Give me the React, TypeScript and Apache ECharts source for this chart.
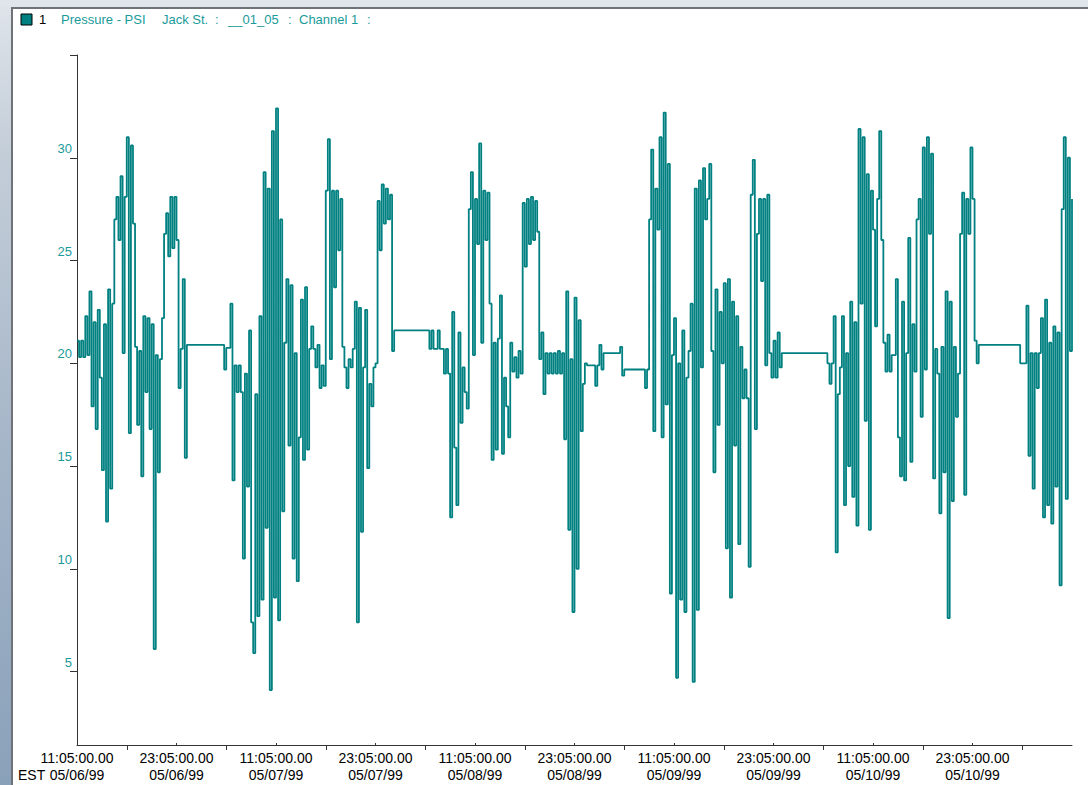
import React, { useEffect, useRef } from "react";
import * as echarts from "echarts";

// Pressure samples, one every 0.25 h, starting 11:05 05/06/99 (12 h per array)
const STEP_HOURS = 0.25;
const halfDay1 = [21.1, 20.3, 21.1, 20.3, 22.3, 20.4, 23.5, 17.9, 22.0, 16.8, 22.6, 19.3, 14.8, 21.9, 12.3, 23.6, 13.9, 22.9, 27.0, 28.1, 26.0, 29.1, 20.5, 28.1, 31.0, 16.6, 30.6, 26.8, 20.8, 17.0, 20.6, 14.5, 22.3, 18.6, 22.2, 16.8, 21.9, 6.1, 20.4, 14.7, 20.2, 22.2, 26.3, 27.3, 25.2, 28.1, 25.6, 28.1];
const halfDay2 = [26.0, 18.8, 20.7, 24.1, 15.4, 20.9, 20.9, 20.9, 20.9, 20.9, 20.9, 20.9, 20.9, 20.9, 20.9, 20.9, 20.9, 20.9, 20.9, 20.9, 20.9, 20.9, 20.9, 19.7, 20.75, 20.75, 22.9, 14.3, 19.9, 18.6, 19.9, 18.6, 10.5, 19.5, 14.0, 21.6, 7.4, 5.9, 18.5, 7.7, 22.3, 8.5, 29.3, 12.0, 28.5, 4.1, 31.3, 8.6];
const halfDay3 = [32.4, 7.5, 27.0, 12.8, 21.0, 24.1, 16.0, 23.8, 10.5, 20.5, 9.4, 16.4, 23.1, 15.3, 23.7, 15.8, 20.7, 21.8, 20.7, 19.8, 20.9, 18.8, 19.9, 18.9, 28.4, 30.9, 20.2, 28.4, 23.7, 28.4, 25.5, 28.0, 20.8, 19.8, 18.8, 20.2, 19.8, 20.7, 23.0, 7.4, 22.7, 11.8, 19.8, 22.6, 14.9, 19.0, 17.9, 19.8];
const halfDay4 = [20.0, 27.9, 25.5, 28.7, 26.8, 28.5, 27.0, 28.2, 20.6, 21.6, 21.6, 21.6, 21.6, 21.6, 21.6, 21.6, 21.6, 21.6, 21.6, 21.6, 21.6, 21.6, 21.6, 21.6, 21.6, 21.6, 20.7, 21.6, 20.7, 20.7, 21.6, 20.7, 20.7, 19.5, 20.7, 19.5, 12.5, 22.5, 15.9, 13.1, 21.5, 17.1, 19.8, 18.6, 17.8, 27.5, 29.3, 20.4];
const halfDay5 = [28.0, 25.8, 30.7, 21.0, 28.4, 26.0, 28.3, 22.9, 15.3, 21.0, 15.8, 21.2, 23.3, 15.6, 19.3, 17.9, 16.4, 21.0, 19.6, 20.3, 19.3, 20.6, 19.5, 27.8, 24.7, 28.0, 25.8, 28.1, 26.0, 27.9, 26.4, 20.2, 21.5, 18.5, 20.5, 19.5, 20.5, 19.5, 20.5, 19.5, 20.6, 19.5, 20.5, 16.3, 23.5, 11.9, 20.2, 7.9];
const halfDay6 = [23.2, 10.0, 22.1, 16.7, 19.0, 20.0, 19.9, 19.9, 19.9, 19.9, 18.9, 19.9, 20.9, 19.7, 20.5, 20.5, 20.5, 20.5, 20.5, 20.5, 20.5, 20.5, 20.8, 19.4, 19.7, 19.7, 19.7, 19.7, 19.7, 19.7, 19.7, 19.7, 19.7, 19.7, 18.8, 19.7, 27.0, 30.4, 16.7, 28.5, 26.5, 31.0, 16.4, 32.2, 18.0, 29.7, 8.8, 20.4];
const halfDay7 = [22.2, 4.7, 20.0, 8.5, 21.6, 7.9, 19.3, 20.6, 22.9, 4.5, 28.5, 8.0, 28.9, 19.8, 29.5, 27.0, 28.0, 29.7, 20.6, 14.7, 23.6, 17.0, 22.5, 20.0, 23.9, 11.0, 24.1, 8.6, 23.0, 16.0, 22.3, 11.2, 20.8, 18.3, 19.7, 18.3, 10.1, 28.2, 29.9, 16.8, 26.3, 28.0, 24.0, 28.0, 19.9, 28.2, 20.5, 19.3];
const halfDay8 = [21.1, 19.3, 21.5, 19.8, 20.5, 20.5, 20.5, 20.5, 20.5, 20.5, 20.5, 20.5, 20.5, 20.5, 20.5, 20.5, 20.5, 20.5, 20.5, 20.5, 20.5, 20.5, 20.5, 20.5, 20.5, 20.5, 20.0, 19.0, 20.0, 22.3, 10.8, 18.5, 19.8, 22.3, 13.1, 20.5, 15.0, 23.0, 13.5, 22.0, 12.1, 31.4, 22.9, 31.0, 17.2, 29.2, 11.9, 28.4];
const halfDay9 = [26.5, 21.8, 28.0, 31.3, 26.0, 21.0, 19.6, 21.4, 19.6, 20.4, 20.4, 24.1, 16.4, 14.5, 23.0, 14.3, 20.5, 26.1, 15.2, 21.9, 19.6, 27.0, 28.0, 17.4, 30.5, 19.7, 31.0, 26.3, 30.2, 14.4, 20.7, 19.5, 12.7, 20.8, 14.7, 23.5, 7.6, 23.0, 13.3, 20.8, 17.4, 19.5, 26.3, 28.3, 13.6, 28.0, 26.3, 30.5];
const halfDay10 = [28.0, 21.1, 20.0, 20.9, 20.9, 20.9, 20.9, 20.9, 20.9, 20.9, 20.9, 20.9, 20.9, 20.9, 20.9, 20.9, 20.9, 20.9, 20.9, 20.9, 20.9, 20.9, 20.9, 20.0, 20.0, 20.0, 22.8, 15.5, 20.5, 13.9, 20.5, 18.8, 20.5, 22.2, 12.5, 23.1, 13.1, 21.0, 12.2, 21.8, 14.0, 21.5, 9.2, 27.5, 31.0, 13.4, 30.0, 20.6, 28.0];

// Axis labels
const xLabelHours = [0, 12, 24, 36, 48, 60, 72, 84, 96, 108];
const xLabelTimes = ["11:05:00.00", "23:05:00.00", "11:05:00.00", "23:05:00.00", "11:05:00.00", "23:05:00.00", "11:05:00.00", "23:05:00.00", "11:05:00.00", "23:05:00.00"];
const xLabelDates = ["05/06/99", "05/06/99", "05/07/99", "05/07/99", "05/08/99", "05/08/99", "05/09/99", "05/09/99", "05/10/99", "05/10/99"];
const xMajorTickHours = [6, 18, 30, 42, 54, 66, 78, 90, 102, 114];
const xMinorTickHours = [12, 24, 36, 48, 60, 72, 84, 96, 108];
const yLabelValues = [5, 10, 15, 20, 25, 30];
const yTickValues = [5, 10, 15, 20, 25, 30, 35];

const TEAL = "#008080";
const LABEL_TEAL = "#1a9a9a";
const FONT = "Arial, 'Liberation Sans', sans-serif";

export default function App() {
  const ref = useRef<HTMLDivElement>(null);

  useEffect(() => {
    if (!ref.current) return;
    const chart = echarts.init(ref.current, undefined, { renderer: "svg" });
    const values = [
      ...halfDay1, ...halfDay2, ...halfDay3, ...halfDay4, ...halfDay5,
      ...halfDay6, ...halfDay7, ...halfDay8, ...halfDay9, ...halfDay10,
    ];
    const data = values.map((v, i) => [i * STEP_HOURS, v]);

    const legendText = (text: string, x: number, color = LABEL_TEAL) => ({
      type: "text",
      x,
      y: 19,
      style: { text, fill: color, font: `13px ${FONT}`, textVerticalAlign: "middle" },
    });

    chart.setOption({
      animation: false,
      backgroundColor: "#ffffff",
      grid: { left: 77, top: 55, right: 16, bottom: 40, containLabel: false },
      xAxis: [
        {
          type: "value",
          min: 0,
          max: 120,
          axisLine: { show: true, lineStyle: { color: "#333333", width: 1 } },
          axisTick: { show: true, customValues: xMajorTickHours, length: 5, lineStyle: { color: "#333333" } },
          axisLabel: {
            customValues: xLabelHours,
            color: "#000000",
            fontSize: 14,
            fontFamily: FONT,
            lineHeight: 17,
            margin: 4,
            formatter: (v: number) => {
              const i = xLabelHours.indexOf(Math.round(v));
              return i < 0 ? "" : `${xLabelTimes[i]}\n${xLabelDates[i]}`;
            },
          },
          splitLine: { show: false },
        },
        {
          type: "value",
          min: 0,
          max: 120,
          position: "bottom",
          axisLine: { show: false },
          axisTick: { show: true, inside: true, length: 2, customValues: xMinorTickHours, lineStyle: { color: "#333333" } },
          axisLabel: { show: false },
          splitLine: { show: false },
        },
      ],
      yAxis: {
        type: "value",
        min: 1.43,
        max: 35,
        axisLine: { show: true, lineStyle: { color: "#333333", width: 1 } },
        axisTick: { show: true, customValues: yTickValues, length: 7, lineStyle: { color: "#333333" } },
        axisLabel: {
          customValues: yLabelValues,
          color: LABEL_TEAL,
          fontSize: 13,
          fontFamily: FONT,
          margin: 5,
          verticalAlign: "bottom",
          padding: [0, 0, 3, 0],
        },
        splitLine: { show: false },
      },
      series: [
        {
          type: "line",
          step: "end",
          xAxisIndex: 0,
          data,
          symbol: "none",
          showSymbol: false,
          lineStyle: { color: TEAL, width: 1.8 },
          clip: true,
        },
      ],
      graphic: [
        {
          type: "rect",
          shape: { x: 0, y: 0, width: 11, height: 785 },
          style: {
            fill: new echarts.graphic.LinearGradient(0, 0, 0, 1, [
              { offset: 0, color: "#dfe4ea" },
              { offset: 0.2, color: "#c3cdd8" },
              { offset: 0.6, color: "#a3b4c7" },
              { offset: 1, color: "#8aa1ba" },
            ]),
          },
        },
        { type: "rect", shape: { x: 0, y: 0, width: 1088, height: 7 }, style: { fill: "#e0e5eb" } },
        { type: "rect", shape: { x: 11, y: 7, width: 1077, height: 2 }, style: { fill: "#6f7377" } },
        { type: "rect", shape: { x: 11, y: 7, width: 2, height: 778 }, style: { fill: "#6f7377" } },
        { type: "rect", shape: { x: 21, y: 14, width: 11, height: 11 }, style: { fill: TEAL, stroke: "#000000", lineWidth: 1 } },
        legendText("1", 39, "#000000"),
        legendText("Pressure - PSI", 61),
        legendText("Jack St.", 162),
        legendText(":", 215),
        legendText("__01_05", 228),
        legendText(":", 288),
        legendText("Channel 1", 299),
        legendText(":", 367),
        {
          type: "text",
          x: 18,
          y: 775,
          style: { text: "EST", fill: "#000000", font: `14px ${FONT}`, textVerticalAlign: "middle" },
        },
      ],
    });

    return () => chart.dispose();
  }, []);

  return (
    <div
      ref={ref}
      style={{ position: "fixed", left: 0, top: 0, width: 1088, height: 785 }}
    />
  );
}
